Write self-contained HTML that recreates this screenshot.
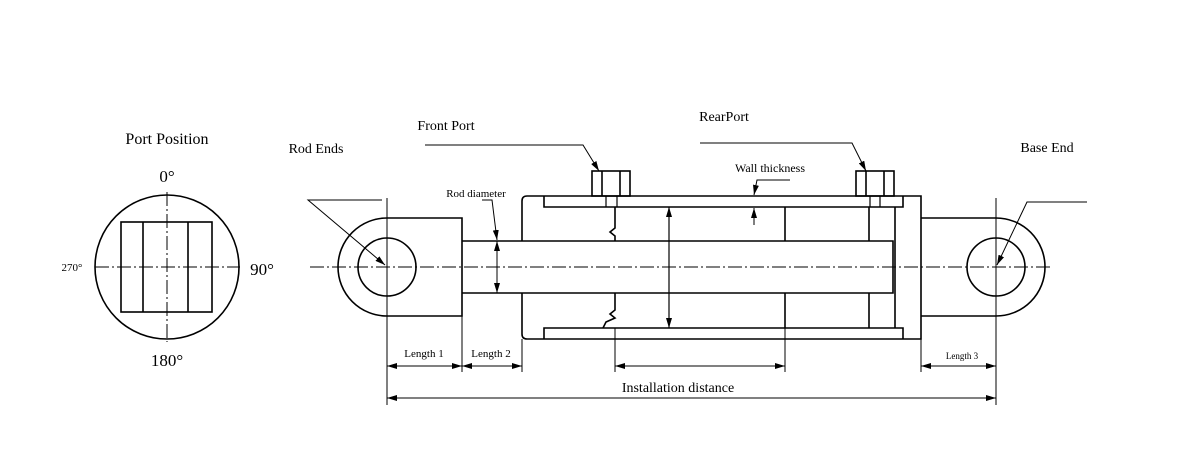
<!DOCTYPE html>
<html><head><meta charset="utf-8"><style>body{margin:0;background:#fff}svg{display:block}</style></head>
<body>
<svg width="1203" height="471" viewBox="0 0 1203 471" xmlns="http://www.w3.org/2000/svg" font-family="Liberation Serif, serif">
<defs>
<marker id="a" viewBox="0 0 10 6" refX="10" refY="3" markerWidth="10" markerHeight="6" markerUnits="userSpaceOnUse" orient="auto-start-reverse"><path d="M0,0 L10,3 L0,6 z" fill="#000"/></marker>
</defs>
<g fill="none" stroke="#000" stroke-width="1.6">
<circle cx="167" cy="267" r="72"/>
<rect x="121" y="222" width="91" height="90"/>
<line x1="143" y1="222" x2="143" y2="312"/><line x1="188" y1="222" x2="188" y2="312"/>
<path d="M387,218 H462 V316 H387 A49,49 0 0 1 387,218 Z"/>
<circle cx="387" cy="267" r="29"/>
<path d="M462,241 H893 V293 H462"/>
<path d="M522,241 V201 Q522,196 527,196 H921 V339 H527 Q522,339 522,334 V293"/>
<path d="M544,196 V207 H903 V196"/>
<path d="M544,339 V328 H903 V339"/>
<path d="M615,207 V228 L610,232 L615,236 V241" />
<path d="M615,293 V310 L610,314 L615,318 L606,322 L603,328"/>
<line x1="669" y1="207" x2="669" y2="328" stroke-width="1.2"/>
<line x1="785" y1="207" x2="785" y2="241"/><line x1="785" y1="293" x2="785" y2="328"/>
<line x1="869" y1="207" x2="869" y2="241"/><line x1="869" y1="293" x2="869" y2="328"/>
<line x1="895" y1="207" x2="895" y2="328"/>
<rect x="592" y="171" width="38" height="25"/>
<line x1="602" y1="171" x2="602" y2="196"/><line x1="620" y1="171" x2="620" y2="196"/>
<path d="M606,196 V207 M617,196 V207" stroke-width="1.2"/>
<rect x="856" y="171" width="38" height="25"/>
<line x1="866" y1="171" x2="866" y2="196"/><line x1="884" y1="171" x2="884" y2="196"/>
<path d="M870,196 V207 M880,196 V207" stroke-width="1.2"/>
<path d="M921,218 H996 A49,49 0 0 1 996,316 H921"/>
<circle cx="996" cy="267" r="29"/>
</g>
<g fill="none" stroke="#000" stroke-width="1">
<g stroke-dasharray="14,3,2,3">
<line x1="95" y1="267" x2="240" y2="267"/><line x1="167" y1="192" x2="167" y2="342"/>
<line x1="310" y1="267" x2="1050" y2="267"/>
</g>
<line x1="387" y1="198" x2="387" y2="405"/>
<line x1="462" y1="316" x2="462" y2="372"/>
<line x1="522" y1="339" x2="522" y2="372"/>
<line x1="615" y1="328" x2="615" y2="372"/>
<line x1="785" y1="328" x2="785" y2="372"/>
<line x1="921" y1="339" x2="921" y2="372"/>
<line x1="996" y1="198" x2="996" y2="405"/>
<line x1="387" y1="366" x2="462" y2="366" marker-start="url(#a)" marker-end="url(#a)"/>
<line x1="462" y1="366" x2="522" y2="366" marker-start="url(#a)" marker-end="url(#a)"/>
<line x1="615" y1="366" x2="785" y2="366" marker-start="url(#a)" marker-end="url(#a)"/>
<line x1="921" y1="366" x2="996" y2="366" marker-start="url(#a)" marker-end="url(#a)"/>
<line x1="387" y1="398" x2="996" y2="398" marker-start="url(#a)" marker-end="url(#a)"/>
<line x1="497" y1="241" x2="497" y2="293" marker-start="url(#a)" marker-end="url(#a)"/>
<line x1="669" y1="207" x2="669" y2="328" marker-start="url(#a)" marker-end="url(#a)"/>
<polyline points="382,200 308,200 385,265" marker-end="url(#a)"/>
<polyline points="482,200 492,200 497,240" marker-end="url(#a)"/>
<polyline points="425,145 583,145 599,171" marker-end="url(#a)"/>
<polyline points="700,143 852,143 866,171" marker-end="url(#a)"/>
<polyline points="790,180 757,180 754,195" marker-end="url(#a)"/>
<line x1="754" y1="225" x2="754" y2="208" marker-end="url(#a)"/>
<polyline points="1087,202 1027,202 997,265" marker-end="url(#a)"/>
</g>
<g fill="#000" text-anchor="middle">
<text x="167" y="144" font-size="16">Port Position</text>
<text x="167" y="182" font-size="17">0°</text>
<text x="262" y="275" font-size="17">90°</text>
<text x="72" y="271" font-size="11">270°</text>
<text x="167" y="366" font-size="17">180°</text>
<text x="316" y="153" font-size="14">Rod Ends</text>
<text x="446" y="130" font-size="14">Front Port</text>
<text x="724" y="121" font-size="14">RearPort</text>
<text x="770" y="172" font-size="12">Wall thickness</text>
<text x="1047" y="152" font-size="14">Base End</text>
<text x="476" y="197" font-size="11">Rod diameter</text>
<text x="424" y="357" font-size="11">Length 1</text>
<text x="491" y="357" font-size="11">Length 2</text>
<text x="962" y="359" font-size="9">Length 3</text>
<text x="678" y="392" font-size="14">Installation distance</text>
</g>
</svg>
</body></html>
